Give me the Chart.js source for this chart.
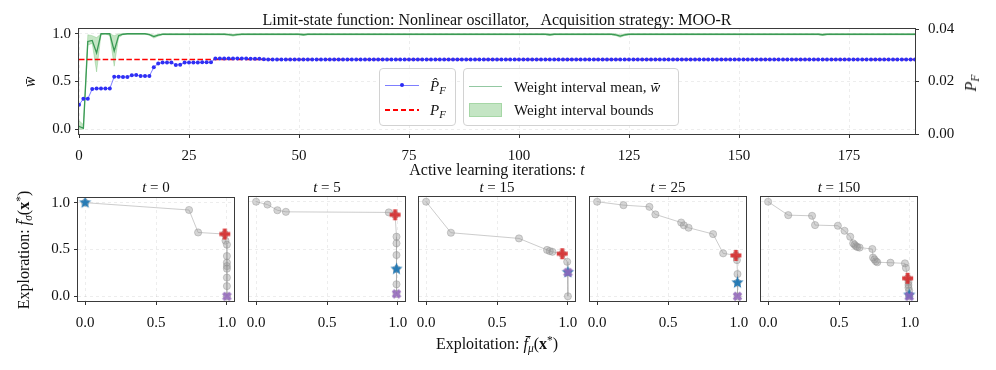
<!DOCTYPE html>
<html>
<head>
<meta charset="utf-8">
<script src="https://cdn.jsdelivr.net/npm/chart.js@4.4.0/dist/chart.umd.min.js"></script>
<style>
  html, body { margin: 0; padding: 0; background: #fff; }
  #fig { position: relative; width: 996px; height: 370px; overflow: hidden;
         font-family: "Liberation Serif", "DejaVu Serif", serif; color: #111; }
  canvas { position: absolute; }
  .lbl { position: absolute; white-space: nowrap; font-size: 15px; line-height: 1;
         transform: translate(-50%, -50%); }
  .big { font-size: 16px; }
  .rot { transform: translate(-50%, -50%) rotate(-90deg); }
  .left { transform: translate(0, -50%); }
  .sub { font-size: 0.72em; position: relative; top: 0.28em; }
  .sup { font-size: 0.72em; position: relative; top: -0.45em; }
  .legend { position: absolute; box-sizing: border-box; border: 1px solid #d2d2d2;
            border-radius: 4px; background: rgba(255,255,255,0.85); }
  .sample { position: absolute; }
</style>
</head>
<body>
<div id="fig">
  <canvas id="top" width="996" height="180" style="left:0;top:0"></canvas>
  <canvas id="p0" width="226" height="150" style="left:28px;top:185px"></canvas>
  <canvas id="p1" width="226" height="150" style="left:199px;top:185px"></canvas>
  <canvas id="p2" width="226" height="150" style="left:369px;top:185px"></canvas>
  <canvas id="p3" width="226" height="150" style="left:540px;top:185px"></canvas>
  <canvas id="p4" width="226" height="150" style="left:711px;top:185px"></canvas>

  <div class="lbl big" style="left:497px;top:20px">Limit-state function: Nonlinear oscillator,&nbsp;&nbsp; Acquisition strategy: MOO-R</div>
  <div class="lbl big" style="left:497px;top:170px">Active learning iterations: <i>t</i></div>
  <div class="lbl big rot" style="left:30px;top:82px"><i>w̄</i></div>
  <div class="lbl big rot" style="left:971px;top:83px"><i>P</i><span class="sub"><i>F</i></span></div>

  <div class="legend" style="left:379px;top:68px;width:77px;height:58px"></div>
  <div class="legend" style="left:463px;top:68px;width:216px;height:58px"></div>
  <div class="sample" style="left:385px;top:85px;width:34px;height:1px;background:rgba(40,40,255,0.6)"></div>
  <div class="sample" style="left:400px;top:83px;width:4px;height:4px;border-radius:50%;background:#2b2bf5"></div>
  <div class="sample" style="left:385px;top:109px;width:34px;height:1.5px;background:repeating-linear-gradient(90deg,#f00 0 5.5px,transparent 5.5px 8px)"></div>
  <div class="lbl left" style="left:430px;top:86px"><i>P̂</i><span class="sub"><i>F</i></span></div>
  <div class="lbl left" style="left:430px;top:110px"><i>P</i><span class="sub"><i>F</i></span></div>
  <div class="sample" style="left:469px;top:86px;width:33px;height:1px;background:rgba(58,154,85,0.55)"></div>
  <div class="sample" style="left:469px;top:103px;width:33px;height:14px;background:rgba(44,160,44,0.28);box-sizing:border-box;border:1px solid rgba(44,160,44,0.2)"></div>
  <div class="lbl left" style="left:514px;top:87px">Weight interval mean, <i>w̄</i></div>
  <div class="lbl left" style="left:514px;top:110px">Weight interval bounds</div>

  <div class="lbl" style="left:156px;top:187px"><i>t</i> = 0</div>
  <div class="lbl" style="left:327px;top:187px"><i>t</i> = 5</div>
  <div class="lbl" style="left:497px;top:187px"><i>t</i> = 15</div>
  <div class="lbl" style="left:668px;top:187px"><i>t</i> = 25</div>
  <div class="lbl" style="left:839px;top:187px"><i>t</i> = 150</div>
  <div class="lbl big rot" style="left:24px;top:250px">Exploration: <i>f̄</i><span class="sub"><i>σ</i></span>(<b>x</b><span class="sup">*</span>)</div>
  <div class="lbl big" style="left:497px;top:344px">Exploitation: <i>f̄</i><span class="sub"><i>μ</i></span>(<b>x</b><span class="sup">*</span>)</div>
</div>

<script>
// ---- top panel data (index = active learning iteration t) ----
const pfHat = [
  0.0111, 0.0134, 0.0134, 0.0171, 0.0173, 0.0173, 0.0173, 0.0173, 0.0218, 0.0218,
  0.0217, 0.0217, 0.0224, 0.0225, 0.0221, 0.0221, 0.0221, 0.0254, 0.0269, 0.0272,
  0.0272, 0.0272, 0.0263, 0.0264, 0.0272, 0.0272, 0.0272, 0.0272, 0.0273, 0.0273,
  0.0273, 0.0288, 0.0288, 0.0288, 0.0288, 0.0288, 0.0288, 0.0288, 0.0288, 0.0287,
  0.0287, 0.0287, 0.0285, 0.0284, 0.0284, 0.0284, 0.0284, 0.0284, 0.0284, 0.0284,
  0.0284, 0.0284, 0.0284, 0.0284, 0.0284, 0.0284, 0.0284, 0.0284, 0.0284, 0.0284,
  0.0284, 0.0284, 0.0284, 0.0284, 0.0284, 0.0284, 0.0284, 0.0284, 0.0284, 0.0284,
  0.0284, 0.0284, 0.0284, 0.0284, 0.0284, 0.0284, 0.0284, 0.0284, 0.0284, 0.0284,
  0.0284, 0.0284, 0.0284, 0.0284, 0.0284, 0.0284, 0.0284, 0.0284, 0.0284, 0.0284,
  0.0284, 0.0284, 0.0284, 0.0284, 0.0284, 0.0284, 0.0284, 0.0284, 0.0284, 0.0284,
  0.0284, 0.0284, 0.0284, 0.0284, 0.0284, 0.0284, 0.0284, 0.0284, 0.0284, 0.0284,
  0.0284, 0.0284, 0.0284, 0.0284, 0.0284, 0.0284, 0.0284, 0.0284, 0.0284, 0.0284,
  0.0284, 0.0284, 0.0284, 0.0284, 0.0284, 0.0284, 0.0284, 0.0284, 0.0284, 0.0284,
  0.0284, 0.0284, 0.0284, 0.0284, 0.0284, 0.0284, 0.0284, 0.0284, 0.0284, 0.0284,
  0.0284, 0.0284, 0.0284, 0.0284, 0.0284, 0.0284, 0.0284, 0.0284, 0.0284, 0.0284,
  0.0284, 0.0284, 0.0284, 0.0284, 0.0284, 0.0284, 0.0284, 0.0284, 0.0284, 0.0284,
  0.0284, 0.0284, 0.0284, 0.0284, 0.0284, 0.0284, 0.0284, 0.0284, 0.0284, 0.0284,
  0.0284, 0.0284, 0.0284, 0.0284, 0.0284, 0.0284, 0.0284, 0.0284, 0.0284, 0.0284,
  0.0284, 0.0284, 0.0284, 0.0284, 0.0284, 0.0284, 0.0284, 0.0284, 0.0284, 0.0284,
  0.0284
];
const pfTrue = 0.0284;

const wMean = [
  0.03, 0.01, 0.92, 0.93, 0.80, 1.0, 1.0, 1.0, 0.82, 0.98,
  0.995, 1.0, 1.0, 1.0, 1.0, 1.0, 0.99, 0.97, 0.985, 0.995,
  0.995, 0.995, 0.995, 0.995, 0.995, 0.995, 0.995, 0.995, 0.995, 0.995,
  0.995, 0.995, 0.995, 0.995, 0.992, 0.985, 0.992, 0.995, 0.995, 0.995,
  0.995, 0.995, 0.995, 0.995, 0.995, 0.995, 0.995, 0.995, 0.995, 0.995,
  0.995, 0.99, 0.995, 0.995, 0.995, 0.995, 0.995, 0.995, 0.995, 0.995,
  0.995, 0.995, 0.995, 0.995, 0.995, 0.995, 0.995, 0.995, 0.995, 0.995,
  0.995, 0.995, 0.995, 0.995, 0.995, 0.995, 0.995, 0.995, 0.995, 0.995,
  0.995, 0.995, 0.995, 0.995, 0.995, 0.995, 0.995, 0.995, 0.995, 0.995,
  0.995, 0.995, 0.995, 0.995, 0.995, 0.995, 0.995, 0.995, 0.995, 0.995,
  0.995, 0.995, 0.995, 0.995, 0.995, 0.995, 0.995, 0.99, 0.995, 0.995,
  0.995, 0.995, 0.995, 0.995, 0.995, 0.995, 0.995, 0.995, 0.995, 0.995,
  0.995, 0.995, 0.988, 0.975, 0.988, 0.995, 0.995, 0.995, 0.995, 0.995,
  0.995, 0.995, 0.995, 0.995, 0.995, 0.995, 0.995, 0.995, 0.995, 0.995,
  0.995, 0.995, 0.995, 0.995, 0.995, 0.995, 0.995, 0.995, 0.995, 0.995,
  0.995, 0.995, 0.995, 0.995, 0.995, 0.995, 0.995, 0.995, 0.995, 0.995,
  0.995, 0.995, 0.995, 0.995, 0.995, 0.995, 0.995, 0.995, 0.995, 0.99,
  0.995, 0.995, 0.995, 0.995, 0.995, 0.995, 0.995, 0.995, 0.995, 0.995,
  0.995, 0.995, 0.995, 0.995, 0.995, 0.995, 0.995, 0.995, 0.995, 0.995,
  0.995
];
const wLower = [
  0.0, 0.0, 0.88, 0.90, 0.60, 0.99, 1.0, 0.98, 0.66, 0.96,
  0.99, 0.995, 0.995, 0.995, 0.995, 0.995, 0.985, 0.955, 0.975, 0.99,
  0.988, 0.988, 0.988, 0.988, 0.988, 0.988, 0.988, 0.988, 0.988, 0.988,
  0.988, 0.988, 0.988, 0.988, 0.985, 0.975, 0.985, 0.988, 0.988, 0.988,
  0.988, 0.988, 0.988, 0.988, 0.988, 0.988, 0.988, 0.988, 0.988, 0.988,
  0.988, 0.982, 0.988, 0.988, 0.988, 0.988, 0.988, 0.988, 0.988, 0.988,
  0.988, 0.988, 0.988, 0.988, 0.988, 0.988, 0.988, 0.988, 0.988, 0.988,
  0.988, 0.988, 0.988, 0.988, 0.988, 0.988, 0.988, 0.988, 0.988, 0.988,
  0.988, 0.988, 0.988, 0.988, 0.988, 0.988, 0.988, 0.988, 0.988, 0.988,
  0.988, 0.988, 0.988, 0.988, 0.988, 0.988, 0.988, 0.988, 0.988, 0.988,
  0.988, 0.988, 0.988, 0.988, 0.988, 0.988, 0.988, 0.982, 0.988, 0.988,
  0.988, 0.988, 0.988, 0.988, 0.988, 0.988, 0.988, 0.988, 0.988, 0.988,
  0.988, 0.988, 0.98, 0.963, 0.98, 0.988, 0.988, 0.988, 0.988, 0.988,
  0.988, 0.988, 0.988, 0.988, 0.988, 0.988, 0.988, 0.988, 0.988, 0.988,
  0.988, 0.988, 0.988, 0.988, 0.988, 0.988, 0.988, 0.988, 0.988, 0.988,
  0.988, 0.988, 0.988, 0.988, 0.988, 0.988, 0.988, 0.988, 0.988, 0.988,
  0.988, 0.988, 0.988, 0.988, 0.988, 0.988, 0.988, 0.988, 0.988, 0.982,
  0.988, 0.988, 0.988, 0.988, 0.988, 0.988, 0.988, 0.988, 0.988, 0.988,
  0.988, 0.988, 0.988, 0.988, 0.988, 0.988, 0.988, 0.988, 0.988, 0.988,
  0.988
];
const wUpper = [
  0.09, 0.05, 0.99, 0.98, 0.96, 1.0, 1.0, 1.0, 0.98, 1.0,
  1.0, 1.0, 1.0, 1.0, 1.0, 1.0, 1.0, 0.985, 0.995, 1.0,
  1.0, 1.0, 1.0, 1.0, 1.0, 1.0, 1.0, 1.0, 1.0, 1.0,
  1.0, 1.0, 1.0, 1.0, 1.0, 0.995, 1.0, 1.0, 1.0, 1.0,
  1.0, 1.0, 1.0, 1.0, 1.0, 1.0, 1.0, 1.0, 1.0, 1.0,
  1.0, 1.0, 1.0, 1.0, 1.0, 1.0, 1.0, 1.0, 1.0, 1.0,
  1.0, 1.0, 1.0, 1.0, 1.0, 1.0, 1.0, 1.0, 1.0, 1.0,
  1.0, 1.0, 1.0, 1.0, 1.0, 1.0, 1.0, 1.0, 1.0, 1.0,
  1.0, 1.0, 1.0, 1.0, 1.0, 1.0, 1.0, 1.0, 1.0, 1.0,
  1.0, 1.0, 1.0, 1.0, 1.0, 1.0, 1.0, 1.0, 1.0, 1.0,
  1.0, 1.0, 1.0, 1.0, 1.0, 1.0, 1.0, 1.0, 1.0, 1.0,
  1.0, 1.0, 1.0, 1.0, 1.0, 1.0, 1.0, 1.0, 1.0, 1.0,
  1.0, 1.0, 1.0, 0.99, 1.0, 1.0, 1.0, 1.0, 1.0, 1.0,
  1.0, 1.0, 1.0, 1.0, 1.0, 1.0, 1.0, 1.0, 1.0, 1.0,
  1.0, 1.0, 1.0, 1.0, 1.0, 1.0, 1.0, 1.0, 1.0, 1.0,
  1.0, 1.0, 1.0, 1.0, 1.0, 1.0, 1.0, 1.0, 1.0, 1.0,
  1.0, 1.0, 1.0, 1.0, 1.0, 1.0, 1.0, 1.0, 1.0, 1.0,
  1.0, 1.0, 1.0, 1.0, 1.0, 1.0, 1.0, 1.0, 1.0, 1.0,
  1.0, 1.0, 1.0, 1.0, 1.0, 1.0, 1.0, 1.0, 1.0, 1.0,
  1.0
];
const iterTicks = [0, 25, 50, 75, 100, 125, 150, 175];
const wTicks = [0, 0.5, 1.0];
const pfTicks = [0, 0.02, 0.04];

// ---- Pareto fronts at selected iterations ----
const frontT0x = [0.0, 0.733, 0.797, 0.985, 0.99, 1.0, 1.0, 1.0, 1.0, 1.0, 1.0, 1.0, 1.0];
const frontT0y = [1.0, 0.922, 0.682, 0.665, 0.594, 0.552, 0.43, 0.36, 0.323, 0.295, 0.2, 0.109, 0.0];
const frontT5x = [0.0, 0.08, 0.15, 0.21, 0.936, 0.98, 0.99, 0.99, 0.99, 0.99, 0.99, 0.99];
const frontT5y = [1.0, 0.97, 0.91, 0.893, 0.887, 0.862, 0.63, 0.56, 0.436, 0.288, 0.127, 0.025];
const frontT15x = [0.0, 0.175, 0.655, 0.853, 0.872, 0.891, 0.96, 0.995, 1.0, 1.0];
const frontT15y = [1.0, 0.672, 0.612, 0.49, 0.478, 0.47, 0.45, 0.365, 0.253, 0.0];
const frontT25x = [0.0, 0.186, 0.369, 0.411, 0.593, 0.612, 0.645, 0.818, 0.889, 0.979, 0.986, 0.99, 0.99, 0.99];
const frontT25y = [1.0, 0.964, 0.946, 0.866, 0.78, 0.75, 0.725, 0.658, 0.454, 0.432, 0.383, 0.235, 0.144, 0.0];
const frontT150x = [0.0, 0.142, 0.31, 0.331, 0.492, 0.539, 0.579, 0.60, 0.61, 0.62, 0.63, 0.645, 0.735, 0.74,
                    0.75, 0.76, 0.77, 0.863, 0.965, 0.972, 0.984, 0.99, 0.99, 0.99, 0.995, 0.995, 0.995];
const frontT150y = [1.0, 0.858, 0.851, 0.753, 0.746, 0.693, 0.63, 0.56, 0.545, 0.53, 0.52, 0.515, 0.5, 0.41,
                    0.39, 0.37, 0.36, 0.355, 0.348, 0.30, 0.19, 0.15, 0.12, 0.09, 0.06, 0.014, 0.0];
// knee point (red), selected point (star), max exploitation (purple), one per panel
const kneeX = [0.985, 0.98, 0.96, 0.979, 0.984];
const kneeY = [0.665, 0.862, 0.45, 0.432, 0.19];
const pickX = [0.0, 0.99, 1.0, 0.99, 0.995];
const pickY = [1.0, 0.288, 0.253, 0.144, 0.014];
const exploitX = [1.0, 0.99, 1.0, 0.99, 0.995];
const exploitY = [0.0, 0.025, 0.253, 0.0, 0.0];
const fracTicks = [0, 0.5, 1.0];

const FONT = { family: "'Liberation Serif', 'DejaVu Serif', serif", size: 15 };
const GRID = 'rgba(0,0,0,0.09)';
const TICK = '#333';

const frame = {
    id: 'frame',
    afterDatasetsDraw(chart) {
        const { ctx, chartArea: a } = chart;
        ctx.save();
        ctx.strokeStyle = '#3a3a3a';
        ctx.lineWidth = 1;
        ctx.strokeRect(a.left - 0.5, a.top - 0.5, a.right - a.left + 1, a.bottom - a.top + 1);
        ctx.restore();
    }
};

function series(vals) {
    return vals.map((v, i) => ({ x: i, y: v }));
}

function axis(extra) {
    return Object.assign({
        type: 'linear',
        grid: { color: GRID, lineWidth: 0.8, tickColor: TICK, tickWidth: 1, tickLength: 4, tickBorderDash: [] },
        border: { display: false, dash: [3, 3] },
        ticks: { color: '#111', font: FONT, padding: 5, autoSkip: false, maxRotation: 0 }
    }, extra);
}

// ---- top chart ----
new Chart(document.getElementById('top'), {
    type: 'line',
    data: {
        datasets: [
            { data: series(wLower), yAxisID: 'y', borderColor: 'rgba(44,160,44,0.35)', borderWidth: 0.6,
              pointRadius: 0, fill: false, order: 5 },
            { data: series(wUpper), yAxisID: 'y', borderColor: 'rgba(44,160,44,0.35)', borderWidth: 0.6,
              pointRadius: 0, fill: '-1', backgroundColor: 'rgba(44,160,44,0.28)', order: 4 },
            { data: series(wMean), yAxisID: 'y', borderColor: '#3a9a55', borderWidth: 1.3,
              pointRadius: 0, fill: false, order: 3 },
            { data: [{ x: 0, y: pfTrue }, { x: pfHat.length - 1, y: pfTrue }], yAxisID: 'y1',
              borderColor: '#ff0000', borderWidth: 1.5, borderDash: [5.5, 2.4], pointRadius: 0, fill: false, order: 2 },
            { data: series(pfHat), yAxisID: 'y1', borderColor: 'rgba(40,40,255,0.6)', borderWidth: 1,
              pointRadius: 2, pointBackgroundColor: '#2f2ff5', pointBorderWidth: 0, fill: false, order: 1 }
        ]
    },
    options: {
        responsive: false,
        animation: false,
        devicePixelRatio: 1,
        layout: { padding: { top: 29, left: 0, right: 0, bottom: 0 } },
        plugins: { legend: { display: false }, tooltip: { enabled: false } },
        scales: {
            x: axis({
                min: 0, max: pfHat.length - 1,
                afterBuildTicks: s => { s.ticks = iterTicks.map(v => ({ value: v })); },
                afterFit: s => { s.height = 46; },
                ticks: { color: '#111', font: FONT, padding: 9, autoSkip: false, maxRotation: 0,
                         callback: v => String(v) }
            }),
            y: axis({
                position: 'left', min: -0.05, max: 1.05,
                afterBuildTicks: s => { s.ticks = wTicks.map(v => ({ value: v })); },
                afterFit: s => { s.width = 79; },
                ticks: { color: '#111', font: FONT, padding: 4, callback: v => v.toFixed(1) }
            }),
            y1: axis({
                position: 'right', min: 0, max: 0.04,
                afterBuildTicks: s => { s.ticks = pfTicks.map(v => ({ value: v })); },
                afterFit: s => { s.width = 81; },
                grid: { drawOnChartArea: false, tickColor: TICK, tickWidth: 1, tickLength: 4 },
                ticks: { color: '#111', font: FONT, padding: 9, callback: v => v.toFixed(2) }
            })
        }
    },
    plugins: [frame]
});

// ---- marker glyphs ----
function marker(kind, color, size) {
    const c = document.createElement('canvas');
    c.width = size; c.height = size;
    const g = c.getContext('2d');
    const m = size / 2, r = size / 2 - 1;
    g.beginPath();
    if (kind === 'star') {
        for (let i = 0; i < 10; i++) {
            const a = -Math.PI / 2 + i * Math.PI / 5;
            const rr = i % 2 ? r * 0.42 : r;
            g.lineTo(m + rr * Math.cos(a), m + rr * Math.sin(a));
        }
    } else {
        const w = r * 0.36;
        const pts = [[-w, -r], [w, -r], [w, -w], [r, -w], [r, w], [w, w], [w, r], [-w, r], [-w, w], [-r, w], [-r, -w], [-w, -w]];
        const rot = kind === 'x' ? Math.PI / 4 : 0;
        const k = kind === 'x' ? 0.92 : 1;
        pts.forEach(([px, py]) => {
            const qx = px * Math.cos(rot) - py * Math.sin(rot);
            const qy = px * Math.sin(rot) + py * Math.cos(rot);
            g.lineTo(m + qx * k, m + qy * k);
        });
    }
    g.closePath();
    g.fillStyle = color;
    g.fill();
    return c;
}
const starGlyph = marker('star', 'rgba(31,119,180,0.95)', 15);
const kneeGlyph = marker('plus', 'rgba(214,39,40,0.88)', 13);
const exploitGlyph = marker('x', 'rgba(148,103,189,0.85)', 13);

// ---- Pareto front panels ----
const fronts = [[frontT0x, frontT0y], [frontT5x, frontT5y], [frontT15x, frontT15y],
                [frontT25x, frontT25y], [frontT150x, frontT150y]];

fronts.forEach(([fx, fy], k) => {
    const first = k === 0;
    new Chart(document.getElementById('p' + k), {
        type: 'scatter',
        data: {
            datasets: [
                { data: [{ x: exploitX[k], y: exploitY[k] }], pointStyle: exploitGlyph, pointRadius: 6, order: 1 },
                { data: [{ x: pickX[k], y: pickY[k] }], pointStyle: starGlyph, pointRadius: 6, order: 2 },
                { data: [{ x: kneeX[k], y: kneeY[k] }], pointStyle: kneeGlyph, pointRadius: 6, order: 3 },
                { data: fx.map((x, i) => ({ x: x, y: fy[i] })), showLine: true,
                  borderColor: 'rgba(170,170,170,0.6)', borderWidth: 1,
                  pointRadius: 3.6, pointBackgroundColor: 'rgba(150,150,150,0.4)',
                  pointBorderColor: 'rgba(140,140,140,0.4)', pointBorderWidth: 1, order: 4 }
            ]
        },
        options: {
            responsive: false,
            animation: false,
            devicePixelRatio: 1,
            layout: { padding: { top: 12, left: 0, right: 20, bottom: 0 } },
            plugins: { legend: { display: false }, tooltip: { enabled: false } },
            scales: {
                x: axis({
                    min: -0.05, max: 1.05,
                    afterBuildTicks: s => { s.ticks = fracTicks.map(v => ({ value: v })); },
                    afterFit: s => { s.height = 34; },
                    ticks: { color: '#111', font: FONT, padding: 9, autoSkip: false, maxRotation: 0,
                             callback: v => v.toFixed(1) }
                }),
                y: axis({
                    min: -0.05, max: 1.05,
                    afterBuildTicks: s => { s.ticks = fracTicks.map(v => ({ value: v })); },
                    afterFit: s => { s.width = 50; },
                    grid: { color: GRID, lineWidth: 0.8, tickColor: TICK, tickWidth: 1, tickLength: 4,
                            tickBorderDash: [], drawTicks: first },
                    ticks: { display: first, color: '#111', font: FONT, padding: 4,
                             callback: v => v.toFixed(1) }
                })
            }
        },
        plugins: [frame]
    });
});
</script>
</body>
</html>
